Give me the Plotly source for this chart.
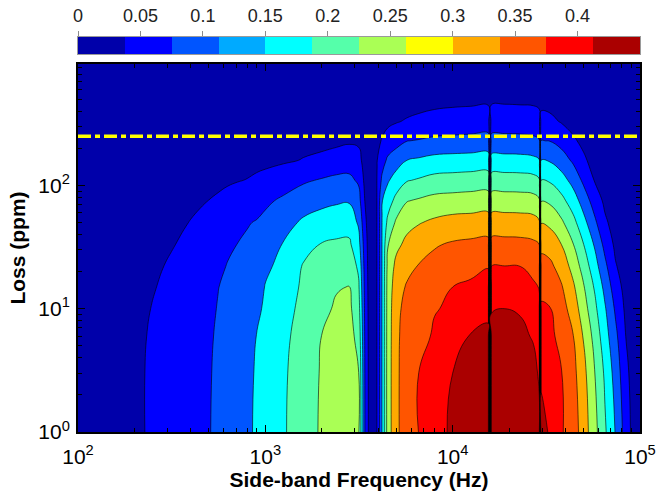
import numpy as np
import plotly.graph_objects as go

# ---------------- data ----------------
freq_hz = [100, 160, 220, 260, 290, 320, 360, 400, 450, 500, 560, 630, 710, 800, 900,
           1000, 1250, 1600, 2000, 2400, 2800, 3150, 3400, 3700, 3950, 4200, 4500, 5000,
           5700, 6600, 8000, 10000, 12500, 15500, 15800, 16100, 19000, 23000, 27000,
           29000, 29300, 29600, 33000, 38000, 44000, 50000, 57000, 65000, 74000, 84000,
           91800, 100000]

loss_ppm = [1, 3, 6, 10, 15, 22, 33, 50, 75, 110, 160, 230, 330, 480, 1000]

# one column per frequency, values listed from low loss to high loss
value_by_freq = [
    [0.012, 0.012, 0.011, 0.011, 0.010, 0.010, 0.009, 0.008, 0.007, 0.006, 0.005, 0.004, 0.003, 0.002, 0.001],
    [0.032, 0.032, 0.031, 0.030, 0.029, 0.027, 0.025, 0.022, 0.019, 0.016, 0.013, 0.010, 0.007, 0.005, 0.002],
    [0.048, 0.048, 0.047, 0.045, 0.043, 0.040, 0.037, 0.033, 0.029, 0.024, 0.019, 0.014, 0.010, 0.007, 0.003],
    [0.058, 0.058, 0.056, 0.053, 0.0495, 0.046, 0.042, 0.037, 0.032, 0.027, 0.022, 0.017, 0.012, 0.008, 0.003],
    [0.065, 0.064, 0.062, 0.059, 0.056, 0.0505, 0.045, 0.040, 0.034, 0.028, 0.022, 0.017, 0.012, 0.008, 0.003],
    [0.071, 0.070, 0.068, 0.065, 0.062, 0.057, 0.048, 0.042, 0.035, 0.028, 0.022, 0.016, 0.011, 0.007, 0.003],
    [0.078, 0.077, 0.075, 0.072, 0.068, 0.063, 0.055, 0.046, 0.039, 0.031, 0.025, 0.018, 0.013, 0.008, 0.004],
    [0.085, 0.084, 0.082, 0.078, 0.074, 0.068, 0.060, 0.0515, 0.042, 0.034, 0.027, 0.020, 0.014, 0.009, 0.004],
    [0.092, 0.091, 0.089, 0.085, 0.081, 0.075, 0.067, 0.058, 0.046, 0.038, 0.030, 0.022, 0.016, 0.010, 0.004],
    [0.098, 0.097, 0.095, 0.092, 0.088, 0.082, 0.074, 0.064, 0.0505, 0.041, 0.032, 0.024, 0.017, 0.011, 0.005],
    [0.1085, 0.107, 0.105, 0.102, 0.0992, 0.0885, 0.077, 0.0655, 0.054, 0.044, 0.034, 0.026, 0.018, 0.011, 0.005],
    [0.120, 0.119, 0.116, 0.112, 0.108, 0.103, 0.091, 0.075, 0.060, 0.046, 0.036, 0.027, 0.019, 0.012, 0.005],
    [0.1315, 0.130, 0.127, 0.122, 0.116, 0.109, 0.101, 0.084, 0.0657, 0.0485, 0.038, 0.028, 0.020, 0.012, 0.005],
    [0.143, 0.141, 0.137, 0.131, 0.125, 0.117, 0.107, 0.097, 0.074, 0.051, 0.040, 0.030, 0.021, 0.013, 0.005],
    [0.1556, 0.154, 0.151, 0.141, 0.131, 0.122, 0.113, 0.103, 0.082, 0.055, 0.042, 0.031, 0.021, 0.013, 0.005],
    [0.168, 0.166, 0.162, 0.157, 0.152, 0.142, 0.127, 0.111, 0.092, 0.060, 0.042, 0.032, 0.022, 0.014, 0.006],
    [0.195, 0.193, 0.188, 0.180, 0.172, 0.163, 0.153, 0.132, 0.108, 0.078, 0.044, 0.033, 0.023, 0.015, 0.006],
    [0.2275, 0.226, 0.222, 0.215, 0.209, 0.204, 0.184, 0.158, 0.127, 0.094, 0.052, 0.038, 0.027, 0.018, 0.007],
    [0.256, 0.254, 0.2505, 0.2385, 0.226, 0.215, 0.203, 0.172, 0.137, 0.104, 0.062, 0.035, 0.028, 0.019, 0.008],
    [0.270, 0.268, 0.263, 0.256, 0.247, 0.228, 0.208, 0.178, 0.144, 0.110, 0.074, 0.038, 0.030, 0.020, 0.008],
    [0.275, 0.273, 0.268, 0.261, 0.251, 0.2315, 0.209, 0.180, 0.146, 0.111, 0.077, 0.044, 0.031, 0.020, 0.008],
    [0.255, 0.2505, 0.234, 0.2186, 0.2066, 0.191, 0.167, 0.143, 0.118, 0.093, 0.066, 0.042, 0.030, 0.019, 0.008],
    [0.100, 0.098, 0.095, 0.091, 0.087, 0.082, 0.075, 0.063, 0.049, 0.038, 0.029, 0.021, 0.015, 0.010, 0.004],
    [0.0, 0.0, 0.0, 0.0, 0.0, 0.0, 0.0, 0.0, 0.0, 0.0, 0.0, 0.0, 0.0, 0.0, 0.0],
    [0.052, 0.052, 0.052, 0.052, 0.052, 0.052, 0.052, 0.052, 0.052, 0.052, 0.049, 0.040, 0.030, 0.020, 0.008],
    [0.152, 0.152, 0.152, 0.152, 0.152, 0.152, 0.152, 0.151, 0.148, 0.110, 0.080, 0.053, 0.035, 0.022, 0.008],
    [0.272, 0.272, 0.271, 0.270, 0.268, 0.262, 0.247, 0.211, 0.177, 0.144, 0.108, 0.070, 0.040, 0.026, 0.010],
    [0.341, 0.341, 0.340, 0.337, 0.328, 0.314, 0.288, 0.258, 0.215, 0.172, 0.127, 0.083, 0.047, 0.030, 0.012],
    [0.374, 0.374, 0.372, 0.366, 0.355, 0.336, 0.313, 0.285, 0.248, 0.197, 0.150, 0.099, 0.054, 0.032, 0.012],
    [0.401, 0.4005, 0.386, 0.373, 0.363, 0.353, 0.329, 0.297, 0.256, 0.205, 0.157, 0.103, 0.060, 0.035, 0.013],
    [0.411, 0.409, 0.405, 0.398, 0.381, 0.365, 0.346, 0.309, 0.266, 0.216, 0.166, 0.110, 0.065, 0.040, 0.015],
    [0.424, 0.420, 0.4115, 0.405, 0.400, 0.379, 0.356, 0.318, 0.270, 0.219, 0.169, 0.113, 0.069, 0.042, 0.016],
    [0.430, 0.426, 0.421, 0.412, 0.405, 0.392, 0.361, 0.320, 0.273, 0.222, 0.171, 0.115, 0.072, 0.043, 0.017],
    [0.433, 0.428, 0.423, 0.4166, 0.408, 0.399, 0.364, 0.323, 0.275, 0.223, 0.173, 0.118, 0.074, 0.044, 0.017],
    [0.0, 0.0, 0.0, 0.0, 0.0, 0.0, 0.0, 0.0, 0.0, 0.0, 0.0, 0.0, 0.0, 0.0, 0.0],
    [0.438, 0.432, 0.425, 0.419, 0.410, 0.401, 0.365, 0.323, 0.273, 0.221, 0.167, 0.115, 0.075, 0.045, 0.017],
    [0.440, 0.434, 0.426, 0.420, 0.410, 0.401, 0.365, 0.323, 0.273, 0.221, 0.167, 0.115, 0.075, 0.046, 0.018],
    [0.440, 0.433, 0.425, 0.418, 0.409, 0.400, 0.364, 0.322, 0.272, 0.220, 0.166, 0.114, 0.074, 0.045, 0.018],
    [0.435, 0.427, 0.418, 0.410, 0.404, 0.392, 0.359, 0.318, 0.268, 0.216, 0.161, 0.110, 0.072, 0.044, 0.017],
    [0.425, 0.417, 0.410, 0.404, 0.399, 0.375, 0.351, 0.309, 0.260, 0.208, 0.153, 0.104, 0.066, 0.040, 0.016],
    [0.0, 0.0, 0.0, 0.0, 0.0, 0.0, 0.0, 0.0, 0.0, 0.0, 0.0, 0.0, 0.0, 0.0, 0.0],
    [0.430, 0.415, 0.408, 0.403, 0.394, 0.368, 0.337, 0.298, 0.248, 0.200, 0.150, 0.101, 0.063, 0.038, 0.015],
    [0.417, 0.413, 0.408, 0.402, 0.385, 0.361, 0.330, 0.290, 0.242, 0.195, 0.146, 0.099, 0.0605, 0.036, 0.014],
    [0.405, 0.402, 0.390, 0.371, 0.355, 0.331, 0.301, 0.259, 0.215, 0.171, 0.124, 0.083, 0.047, 0.030, 0.012],
    [0.375, 0.365, 0.351, 0.328, 0.308, 0.283, 0.252, 0.215, 0.175, 0.133, 0.092, 0.056, 0.036, 0.024, 0.010],
    [0.326, 0.315, 0.296, 0.272, 0.254, 0.229, 0.201, 0.166, 0.128, 0.090, 0.057, 0.040, 0.028, 0.018, 0.008],
    [0.268, 0.254, 0.235, 0.214, 0.197, 0.173, 0.147, 0.112, 0.079, 0.049, 0.035, 0.025, 0.017, 0.012, 0.005],
    [0.207, 0.192, 0.171, 0.155, 0.136, 0.112, 0.086, 0.058, 0.040, 0.030, 0.022, 0.016, 0.011, 0.008, 0.004],
    [0.147, 0.130, 0.112, 0.0925, 0.073, 0.054, 0.040, 0.030, 0.022, 0.017, 0.013, 0.010, 0.007, 0.005, 0.003],
    [0.077, 0.064, 0.0495, 0.040, 0.033, 0.027, 0.022, 0.018, 0.014, 0.011, 0.009, 0.007, 0.005, 0.004, 0.002],
    [0.035, 0.030, 0.025, 0.021, 0.018, 0.015, 0.012, 0.010, 0.008, 0.006, 0.005, 0.004, 0.003, 0.002, 0.001],
    [0.010, 0.009, 0.008, 0.007, 0.006, 0.005, 0.004, 0.004, 0.003, 0.003, 0.002, 0.002, 0.001, 0.001, 0.001],
]

contour_levels = [0.05, 0.10, 0.15, 0.20, 0.25, 0.30, 0.35, 0.40]
peak_level = 0.42
colorbar_max = 0.45
colorbar_ticks = [0, 0.05, 0.1, 0.15, 0.2, 0.25, 0.3, 0.35, 0.4]
colorbar_ticktext = ['0', '0.05', '0.1', '0.15', '0.2', '0.25', '0.3', '0.35', '0.4']
loss_limit_ppm = 250

x_tickvals = [1e2, 1e3, 1e4, 1e5]
x_ticktext = ['10<sup>2</sup>', '10<sup>3</sup>', '10<sup>4</sup>', '10<sup>5</sup>']
y_tickvals = [1, 10, 100]
y_ticktext = ['10<sup>0</sup>', '10<sup>1</sup>', '10<sup>2</sup>']

# ---------------- styling ----------------
jet12 = ['#0000AA', '#0000FF', '#0055FF', '#00AAFF', '#00FFFF', '#55FFAA',
         '#AAFF55', '#FFFF00', '#FFAA00', '#FF5500', '#FF0000', '#AA0000']
n_bins = len(jet12)
bin_width = colorbar_max / n_bins


def band_color(level):
    idx = int(level / bin_width + 1e-6)
    return jet12[min(idx, n_bins - 1)]


band_colors = [band_color(lv) for lv in [0.0] + contour_levels]
main_scale = [[k / (len(band_colors) - 1), c] for k, c in enumerate(band_colors)]
peak_scale = [[0, 'rgba(0,0,0,0)'], [1, band_color(peak_level)]]

bar_scale = []
for k, c in enumerate(jet12):
    bar_scale.append([k / n_bins, c])
    bar_scale.append([(k + 1) / n_bins, c])

z = np.array(value_by_freq).T
step = contour_levels[1] - contour_levels[0]

FONT = 'Liberation Sans, Arial, Helvetica, sans-serif'

fig = go.Figure()

fig.add_trace(go.Contour(
    x=freq_hz, y=loss_ppm, z=z, autocontour=False,
    contours=dict(start=contour_levels[0], end=contour_levels[-1], size=step,
                  coloring='fill', showlines=True),
    colorscale=main_scale, showscale=False,
    line=dict(color='black', width=0.6, smoothing=1.3),
    hoverinfo='skip', xaxis='x', yaxis='y'))

fig.add_trace(go.Contour(
    x=freq_hz, y=loss_ppm, z=z, autocontour=False,
    contours=dict(start=peak_level, end=peak_level, size=step,
                  coloring='fill', showlines=True),
    colorscale=peak_scale, showscale=False,
    line=dict(color='black', width=0.6, smoothing=1.3),
    hoverinfo='skip', xaxis='x', yaxis='y'))

fig.add_trace(go.Scatter(
    x=[freq_hz[0], freq_hz[-1]], y=[loss_limit_ppm, loss_limit_ppm],
    mode='lines', line=dict(color='#FFFF00', width=3.5, dash='13px,4px,5px,4px'),
    showlegend=False, hoverinfo='skip', xaxis='x', yaxis='y'))

bin_centers = [(k + 0.5) * bin_width for k in range(n_bins)]
fig.add_trace(go.Heatmap(
    x=bin_centers, y=[0], z=[bin_centers], colorscale=bar_scale,
    zmin=0, zmax=colorbar_max, showscale=False, hoverinfo='skip',
    xaxis='x2', yaxis='y2'))

W, H = 671, 493
ml, mr, mt, mb = 78, 31, 37, 61
plot_h = H - mt - mb
main_top = (H - mb - 64) / plot_h
bar_bottom = (H - mb - 54) / plot_h

axis_common = dict(
    type='log', showline=True, linewidth=2, linecolor='black', mirror='allticks',
    ticks='inside', ticklen=7, tickwidth=1, tickcolor='black',
    tickmode='array', showgrid=False, zeroline=False, automargin=False,
    tickfont=dict(family=FONT, size=21, color='black'),
    minor=dict(ticks='inside', ticklen=4, tickcolor='black', dtick='D1', showgrid=False),
)

fig.update_layout(
    width=W, height=H,
    margin=dict(l=ml, r=mr, t=mt, b=mb, pad=0, autoexpand=False),
    paper_bgcolor='white', plot_bgcolor='white',
    showlegend=False,
    font=dict(family=FONT, color='black'),
    xaxis=dict(axis_common, range=[2, 5], domain=[0, 1], anchor='y',
               tickvals=x_tickvals, ticktext=x_ticktext, ticklabelstandoff=5,
               title=dict(text='Side-band Frequency (Hz)', standoff=5,
                          font=dict(family=FONT, size=21, weight='bold'))),
    yaxis=dict(axis_common, range=[0, 2.985], domain=[0, main_top], anchor='x',
               tickvals=y_tickvals, ticktext=y_ticktext, ticklabelstandoff=2,
               title=dict(text='Loss (ppm)', standoff=7,
                          font=dict(family=FONT, size=21, weight='bold'))),
    xaxis2=dict(domain=[0, 1], anchor='y2', side='top', range=[0, colorbar_max],
                tickvals=colorbar_ticks, ticktext=colorbar_ticktext,
                ticks='outside', ticklen=5, tickcolor='#8c8c8c', tickwidth=1,
                ticklabelstandoff=2, automargin=False,
                showline=True, mirror=True, linecolor='#9a9a9a', linewidth=1,
                showgrid=False, zeroline=False,
                tickfont=dict(family=FONT, size=18, color='#222222')),
    yaxis2=dict(domain=[bar_bottom, 1], anchor='x2', range=[-0.5, 0.5],
                showticklabels=False, ticks='', showline=True, mirror=True,
                automargin=False,
                linecolor='#9a9a9a', linewidth=1, showgrid=False, zeroline=False),
)

fig.write_html('out.html', config={'displayModeBar': False},
               post_script="document.body.style.margin='0';document.body.style.overflow='hidden';")
